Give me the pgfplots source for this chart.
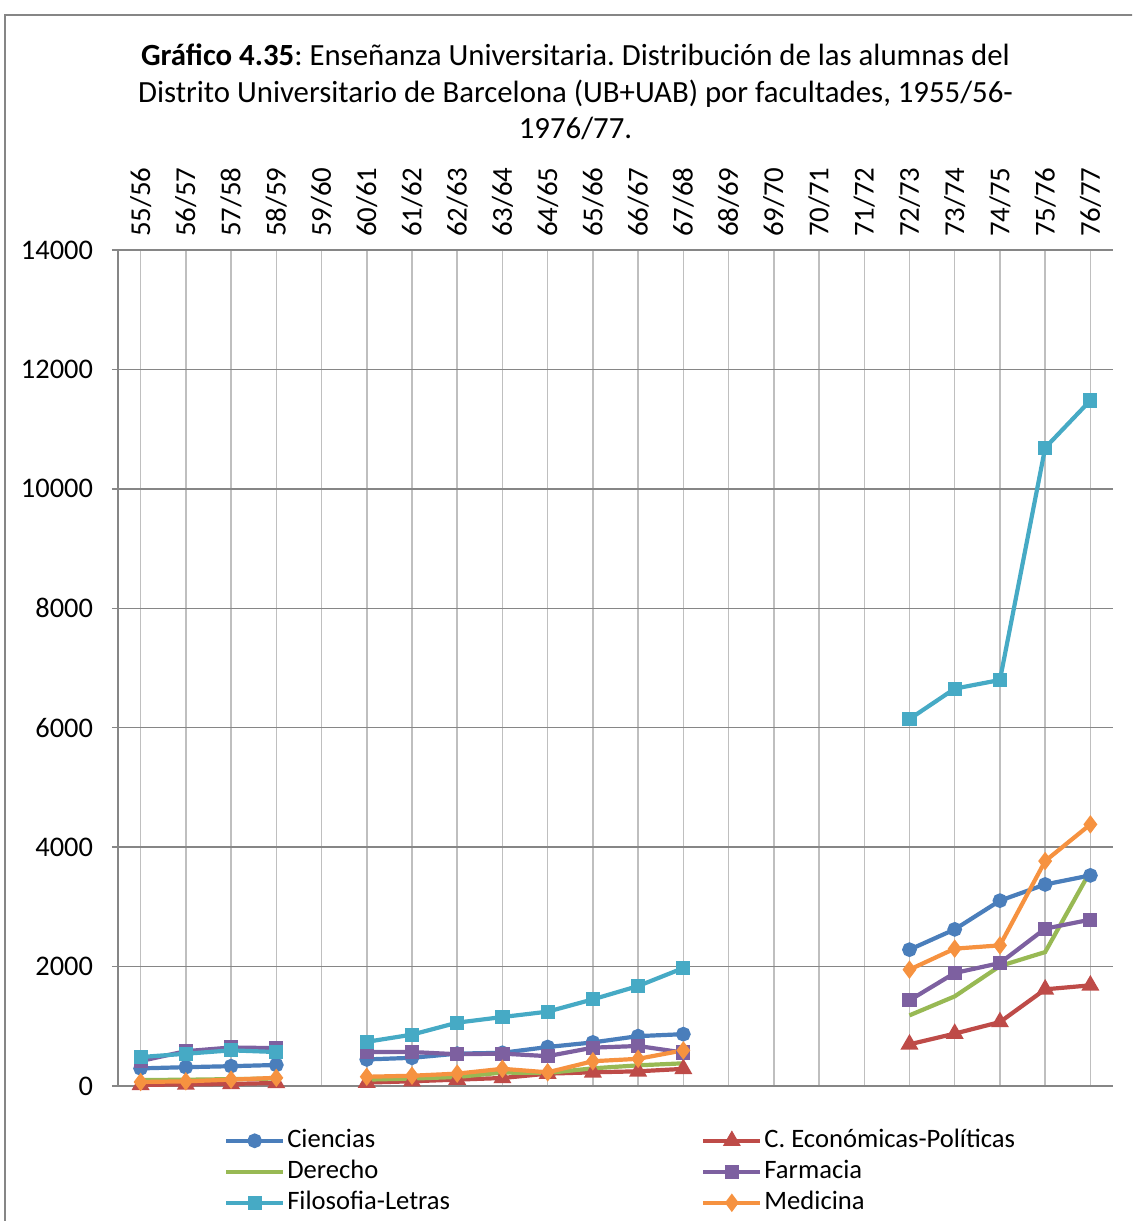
\documentclass[border=0pt]{standalone}
\usepackage{fontspec}
\setmainfont{Carlito}
\usepackage{pgfplots}
\usepackage{pgfplotstable}
\pgfplotsset{compat=1.18}
\frenchspacing

\definecolor{cCie}{HTML}{4A7EBB}
\definecolor{cEco}{HTML}{BE4B48}
\definecolor{cDer}{HTML}{98B954}
\definecolor{cFar}{HTML}{7D60A0}
\definecolor{cFil}{HTML}{46AAC5}
\definecolor{cMed}{HTML}{F69240}
\definecolor{gridH}{HTML}{868686}
\definecolor{gridV}{HTML}{BFBFBF}
\definecolor{frameC}{HTML}{868686}

% Alumnas por facultad y curso (nan = curso sin datos)
\pgfplotstableread{
x  cie   eco   der   far   fil    med
0  295   20    100   418   485    67
1  315   25    105   583   540    78
2  332   35    115   645   597    107
3  352   50    125   634   569    137
4  nan   nan   nan   nan   nan    nan
5  445   57    107   569   740    155
6  472   79    124   569   860    172
7  542   107   151   532   1061   207
8  556   134   225   542   1155   288
9  653   207   218   500   1245   229
10 730   229   296   642   1451   415
11 835   246   346   670   1674   455
12 868   287   380   560   1975   597
13 nan   nan   nan   nan   nan    nan
14 nan   nan   nan   nan   nan    nan
15 nan   nan   nan   nan   nan    nan
16 nan   nan   nan   nan   nan    nan
17 2283  698   1183  1435  6145   1949
18 2623  877   1501  1892  6654   2300
19 3104  1071  2009  2059  6799   2355
20 3375  1619  2243  2635  10687  3767
21 3527  1686  3599  2786  11481  4381
}\datos

\begin{document}
\begin{tikzpicture}[x=1pt,y=1pt]
\begin{scope}
  \clip (0,0) rectangle (566,610.5);
  \draw[frameC, line width=0.8pt] (2.5,-20) -- (2.5,603) -- (620,603);
\end{scope}

\node[align=center, font=\fontsize{15.4}{18.25}\selectfont] at (287.75,564.5)
  {\textbf{Gráfico 4.35}: Enseñanza Universitaria. Distribución de las alumnas del\\
   Distrito Universitario de Barcelona (UB+UAB) por facultades, 1955/56-\\
   1976/77.};

\begin{axis}[
  at={(59pt,67.5pt)}, anchor=south west,
  scale only axis, width=497.5pt, height=418pt,
  xmin=-0.5, xmax=21.5, ymin=0, ymax=14000,
  axis x line*=top, axis y line*=left,
  x axis line style={draw=none},
  y axis line style={gridH, line width=0.75pt},
  xtick={0,...,21},
  xticklabels={55/56,56/57,57/58,58/59,59/60,60/61,61/62,62/63,63/64,64/65,65/66,66/67,67/68,68/69,69/70,70/71,71/72,72/73,73/74,74/75,75/76,76/77},
  xticklabel style={rotate=90, anchor=west, font=\fontsize{14.4}{17}\selectfont},
  xtick style={draw=none},
  ytick={0,2000,...,14000},
  scaled y ticks=false,
  yticklabel style={font=\fontsize{14.2}{17}\selectfont, xshift=-6pt, /pgf/number format/1000 sep={}, /pgf/number format/assume math mode=true},
  ytick style={gridH, line width=0.75pt},
  tick align=outside, major tick length=3pt,
  xmajorgrids, ymajorgrids,
  x grid style={gridV, line width=0.75pt},
  y grid style={gridH, line width=0.75pt},
  unbounded coords=jump,
  every axis plot/.append style={line width=2.1pt},
  legend columns=2,
  legend style={draw=none, fill=none, inner sep=0pt, outer sep=0pt,
    at={(0.1066,-0.047)}, anchor=north west,
    font=\fontsize{13.3}{16}\selectfont,
    nodes={inner xsep=1pt, inner ysep=1pt, text height=10.2pt, text depth=3.3pt},
    column sep=0pt, row sep=0pt},
  legend cell align=left,
  legend image code/.code={\draw[mark repeat=2,mark phase=2,#1] plot coordinates {(0pt,0pt) (14.25pt,0pt) (28.5pt,0pt)};},
]
\addplot[cCie, mark=*, mark size=2.6pt, mark options={solid}] table[x=x,y=cie]{\datos};
\addlegendentry{\makebox[206pt][l]{Ciencias}}
\addplot[cEco, mark=triangle*, mark size=3.1pt, mark options={solid}] table[x=x,y=eco]{\datos};
\addlegendentry{C. Económicas-Políticas}
\addplot[cDer, no marks] table[x=x,y=der]{\datos};
\addlegendentry{\makebox[206pt][l]{Derecho}}
\addplot[cFar, mark=square*, mark size=2.5pt, mark options={solid}] table[x=x,y=far]{\datos};
\addlegendentry{Farmacia}
\addplot[cFil, mark=square*, mark size=2.5pt, mark options={solid}] table[x=x,y=fil]{\datos};
\addlegendentry{\makebox[206pt][l]{Filosofia-Letras}}
\addplot[cMed, mark=diamond*, mark size=2.9pt, mark options={solid}] table[x=x,y=med]{\datos};
\addlegendentry{Medicina}
\end{axis}

\pgfresetboundingbox
\path[use as bounding box] (0,0) rectangle (566,610.5);
\end{tikzpicture}
\end{document}
